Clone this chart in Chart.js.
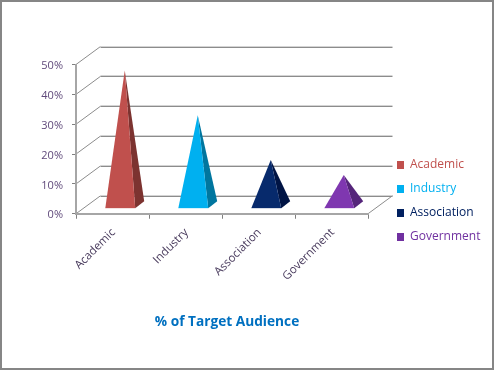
<!DOCTYPE html>
<html>
<head>
<meta charset="utf-8">
<title>% of Target Audience</title>
<script src="https://cdn.jsdelivr.net/npm/chart.js@4"></script>
<style>
    html, body { margin: 0; padding: 0; background: #ffffff; }
    canvas { display: block; }
</style>
</head>
<body>
<canvas id="myChart" width="494" height="370"></canvas>
<script>
// Chart data
const categories = ['Academic', 'Industry', 'Association', 'Government'];
const audience = [45, 30, 15, 10];
const frontColors = ['#c0504d', '#00b0f0', '#072a6c', '#7f37b0'];
const sideColors = ['#7c3330', '#00769f', '#001444', '#55257a'];
const legendColors = ['#c0504d', '#00b0f0', '#002060', '#7030a0'];
const titleText = '% of Target Audience';

const depthX = 24.5;
const depthY = 18;
const gridColor = '#8c8c8c';
const axisColor = '#a6a6a6';

function line(ctx, x1, y1, x2, y2) {
    ctx.beginPath();
    ctx.moveTo(x1, y1);
    ctx.lineTo(x2, y2);
    ctx.stroke();
}

function face(ctx, color, points) {
    ctx.fillStyle = color;
    ctx.beginPath();
    ctx.moveTo(points[0][0], points[0][1]);
    points.slice(1).forEach(p => ctx.lineTo(p[0], p[1]));
    ctx.closePath();
    ctx.fill();
}

// Border, back wall and floor
const wallsPlugin = {
    id: 'walls',
    beforeDraw(chart) {
        const ctx = chart.ctx;
        const area = chart.chartArea;
        const y = chart.scales.y;
        ctx.save();
        ctx.strokeStyle = '#868686';
        ctx.lineWidth = 2;
        ctx.strokeRect(1, 1, chart.width - 2, chart.height - 2);

        y.ticks.forEach(t => {
            const py = y.getPixelForValue(t.value);
            ctx.lineWidth = 1;
            ctx.strokeStyle = gridColor;
            line(ctx, area.left, py, area.left + depthX, py - depthY);
            line(ctx, area.left + depthX, Math.round(py - depthY) + 0.5, area.right + depthX, Math.round(py - depthY) + 0.5);
            ctx.strokeStyle = '#d4d4d4';
            line(ctx, area.left + depthX, Math.round(py - depthY) - 0.5, area.right + depthX, Math.round(py - depthY) - 0.5);
        });
        ctx.strokeStyle = gridColor;
        line(ctx, area.right, area.bottom, area.right + depthX, area.bottom - depthY);
        ctx.restore();
    }
};

// The bars are only there to give the positions, the pyramids go on top
const pyramidPlugin = {
    id: 'pyramids',
    afterInit(chart) {
        // Keep the legend box the same width whatever the font measures
        const legend = chart.legend;
        const fit = legend.fit;
        legend.fit = function() {
            fit.call(this);
            this.width = 126;
        };
    },
    afterLayout(chart) {
        const legend = chart.legend;
        const h = legend.bottom - legend.top;
        legend.left = 385;
        legend.right = 494;
        legend.top = 147;
        legend.bottom = legend.top + h;
        chart.titleBlock.left -= 20;
        chart.titleBlock.right -= 20;
    },
    afterDatasetsDraw(chart) {
        const ctx = chart.ctx;
        chart.getDatasetMeta(0).data.forEach((bar, i) => {
            const half = bar.width / 2;
            const cx = bar.x + depthX / 2;
            const cy = bar.base - depthY / 2 + 0.5;
            const apex = [cx, bar.y - depthY / 2];
            const fl = [cx - half - 4.5, cy + 3.5];
            const fr = [cx + half - 4.5, cy + 3.5];
            const br = [fr[0] + 9, cy - 3.5];
            face(ctx, sideColors[i], [fr, br, apex]);
            face(ctx, frontColors[i], [fl, fr, apex]);
            ctx.save();
            ctx.strokeStyle = 'rgba(255, 255, 255, 0.45)';
            ctx.lineWidth = 1;
            line(ctx, fl[0], fl[1] + 0.5, fr[0], fr[1] + 0.5);
            ctx.restore();
        });
    }
};

new Chart(document.getElementById('myChart'), {
    type: 'bar',
    data: {
        labels: categories,
        datasets: [{
            label: titleText,
            data: audience,
            backgroundColor: 'rgba(0, 0, 0, 0)',
            borderWidth: 0,
            categoryPercentage: 1,
            barPercentage: 0.41
        }]
    },
    options: {
        responsive: false,
        animation: false,
        layout: {
            padding: { top: 64.5, left: 0, right: 0, bottom: 39.5 }
        },
        scales: {
            x: {
                afterFit(scale) { scale.height = 100.3; },
                border: { color: axisColor, width: 2 },
                grid: { drawOnChartArea: false, color: '#808080', tickLength: 5 },
                ticks: {
                    color: '#4a3c5e',
                    font: { family: '"Open Sans"', size: 11.5 },
                    minRotation: 45,
                    maxRotation: 45,
                    padding: 7,
                    labelOffset: 1
                }
            },
            y: {
                min: 0,
                max: 50,
                afterFit(scale) { scale.width = 76; },
                border: { color: axisColor, width: 2 },
                grid: { drawOnChartArea: false, color: '#808080', tickLength: 4 },
                ticks: {
                    stepSize: 10,
                    padding: 9,
                    labelOffset: 1.5,
                    color: '#604a7b',
                    font: { family: '"Open Sans"', size: 11 },
                    callback: value => value + '%'
                }
            }
        },
        plugins: {
            tooltip: { enabled: false },
            title: {
                display: true,
                position: 'bottom',
                text: titleText,
                color: '#0070c0',
                padding: 0,
                font: { family: '"Open Sans"', size: 13.7, weight: 'bold', lineHeight: 1.2 }
            },
            legend: {
                position: 'right',
                align: 'start',
                labels: {
                    boxWidth: 7,
                    boxHeight: 8,
                    padding: 12,
                    font: { family: '"Open Sans"', size: 12 },
                    generateLabels: () => categories.map((name, i) => ({
                        text: name,
                        fillStyle: legendColors[i],
                        strokeStyle: legendColors[i],
                        fontColor: legendColors[i],
                        lineWidth: 0,
                        index: i
                    }))
                }
            }
        }
    },
    plugins: [wallsPlugin, pyramidPlugin]
});
</script>
</body>
</html>
